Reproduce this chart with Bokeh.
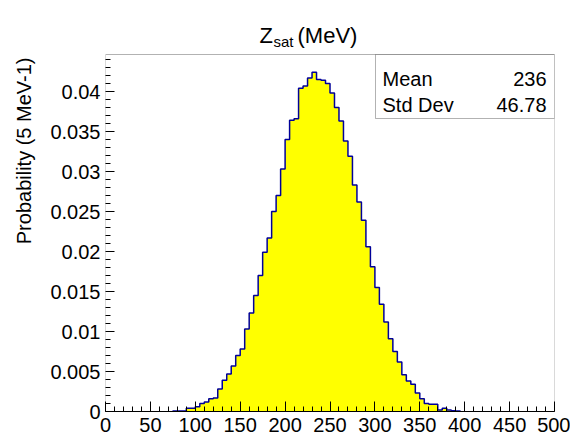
from bokeh.plotting import figure
from bokeh.models import (SingleIntervalTicker, FixedTicker, CustomJSTickFormatter,
                          Label, BoxAnnotation, Range1d, Title)
from bokeh.embed import file_html
from bokeh.resources import INLINE

# ---------------- data ----------------
bin_width = 5
first_edge = 75
prob = [0.00005, 0.00005, 0.00005, 0.0004, 0.0004, 0.0006, 0.0010, 0.0012,
        0.0016, 0.0017, 0.0028, 0.0039, 0.0047, 0.0057, 0.0070, 0.0078,
        0.0103, 0.0123, 0.0145, 0.0170, 0.0199, 0.0217, 0.0250, 0.0270,
        0.0303, 0.0340, 0.0364, 0.0366, 0.0404, 0.0407, 0.0417, 0.0424,
        0.0415, 0.0414, 0.0410, 0.0398, 0.0380, 0.0363, 0.0338, 0.0319,
        0.0283, 0.0262, 0.0239, 0.0206, 0.0181, 0.0155, 0.0134, 0.0112,
        0.0091, 0.0075, 0.0062, 0.0046, 0.0038, 0.0034, 0.0023, 0.0016,
        0.0010, 0.0009, 0.0009, 0.0002, 0.0004, 0.0002, 0.0001, 0.00005]
x_min, x_max = 0, 500
y_min, y_max = 0, 0.044625
y_major = [0, 0.005, 0.01, 0.015, 0.02, 0.025, 0.03, 0.035, 0.04]
title_main = "Z"
title_sub = "sat"
title_unit = "(MeV)"
y_title = "Probability (5 MeV-1)"
stat_names = ["Mean", "Std Dev"]
stat_values = ["236", "46.78"]

left = [first_edge + bin_width * i for i in range(len(prob))]
right = [l + bin_width for l in left]
y_minor = [round(0.001 * k, 4) for k in range(0, 45) if k % 5 != 0]

FONT = "Liberation Sans"
W, H = 570, 440
ML = 105            # left edge of plotting box (page px)
BOX_TOP, BOX_BOTTOM = 54, 411
FW = 449
FH = BOX_BOTTOM     # bokeh frame spans from canvas top down to box bottom
MR, MB = W - ML - FW, H - BOX_BOTTOM
ppu = (BOX_BOTTOM - BOX_TOP) / (y_max - y_min)
y_canvas_top = y_min + FH / ppu

p = figure(width=W, height=H, output_backend="svg", toolbar_location=None,
           title=None,
           x_range=Range1d(x_min, x_max), y_range=Range1d(y_min, y_canvas_top),
           min_border_left=ML, min_border_right=MR, min_border_top=0,
           min_border_bottom=MB)
p.background_fill_color = "white"
p.border_fill_color = "white"
p.outline_line_color = None
p.xgrid.visible = False
p.ygrid.visible = False

step_x = [left[0]] + left + [right[-1]]
step_y = [0] + prob + [0]
p.varea_step(x=step_x, y1=0, y2=step_y, step_mode="after", fill_color="#ffff00")
p.step(x=step_x, y=step_y, mode="after", line_color="#000099", line_width=1.5)

# visible plotting box (frame of the ROOT pad)
p.add_layout(BoxAnnotation(left=x_min, right=x_max, bottom=y_min, top=y_max,
                           fill_color=None, line_color="black", line_width=1))

# axes
p.xaxis.ticker = SingleIntervalTicker(interval=50, num_minor_ticks=5)
p.yaxis.ticker = FixedTicker(ticks=y_major, minor_ticks=y_minor)
p.yaxis.formatter = CustomJSTickFormatter(code="return Number(tick.toFixed(4)).toString();")
for ax in (p.xaxis[0], p.yaxis[0]):
    ax.major_tick_out = 0
    ax.minor_tick_out = 0
    ax.minor_tick_in = 5
    ax.axis_line_color = "black"
    ax.major_tick_line_color = "black"
    ax.minor_tick_line_color = "black"
    ax.major_label_text_font = FONT
    ax.major_label_text_font_size = "20px"
    ax.major_label_text_color = "black"
p.yaxis.axis_line_color = None
p.xaxis.major_tick_in = 10
p.yaxis.major_tick_in = 9
p.xaxis.major_label_standoff = 6
p.yaxis.major_label_standoff = 5

# y axis title, top aligned as in ROOT
p.add_layout(Title(text=y_title, align="right", vertical_align="top",
                   offset=BOX_TOP + 3, text_font=FONT,
                   text_font_size="20px", text_font_style="normal",
                   text_color="black", standoff=22), "left")


def lab(text, sx, sy, size, align="left"):
    p.add_layout(Label(x=sx - ML, y=BOX_BOTTOM - sy, x_units="screen",
                       y_units="screen", text=text, text_font=FONT,
                       text_font_size=size, text_align=align,
                       text_baseline="alphabetic", text_color="black"))


# stats box
p.add_layout(BoxAnnotation(left=x_min + (375 - ML) * (x_max - x_min) / FW, right=x_max,
                           bottom=y_min + (BOX_BOTTOM - 118) / ppu, top=y_max,
                           fill_color="white", fill_alpha=1.0,
                           line_color="black", line_width=1))

# title
lab(title_main, 259, 35, "22px")
lab(title_sub, 273, 41, "15px")
lab(title_unit, 297, 35, "22px")

lab(stat_names[0], 382, 78, "20px")
lab(stat_values[0], 546, 78, "20px", align="right")
lab(stat_names[1], 382, 104, "20px")
lab(stat_values[1], 546, 104, "20px", align="right")

open("out.html", "w").write(file_html(p, INLINE))
